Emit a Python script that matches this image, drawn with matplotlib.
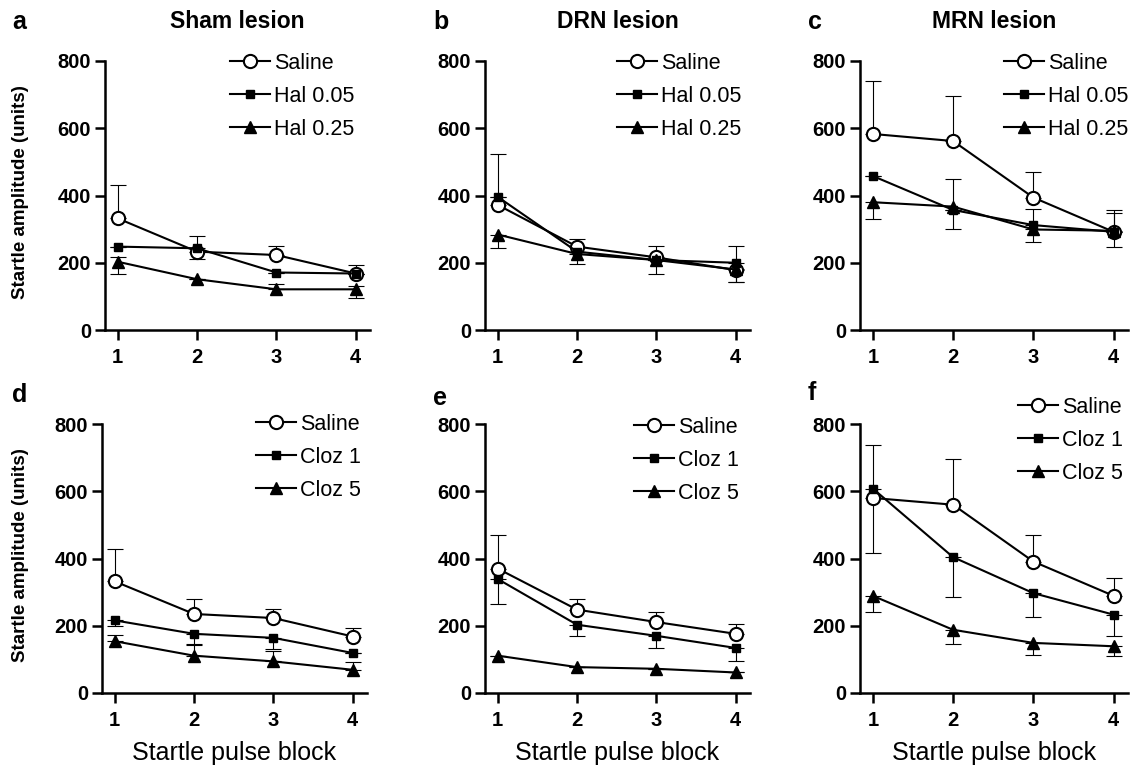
import matplotlib
matplotlib.use("Agg")
import matplotlib.pyplot as plt

plt.rcParams["font.family"] = ["Liberation Sans", "DejaVu Sans"]

BLOCKS = [1, 2, 3, 4]

PANEL_LETTERS = ["a", "b", "c", "d", "e", "f"]
PANEL_TITLES = ["Sham lesion", "DRN lesion", "MRN lesion", "", "", ""]
TOP_LABELS = ["Saline", "Hal 0.05", "Hal 0.25"]
BOTTOM_LABELS = ["Saline", "Cloz 1", "Cloz 5"]

# means per panel: saline, low dose, high dose
MEANS_A = [[332, 233, 223, 168], [248, 243, 171, 168], [203, 151, 121, 121]]
MEANS_B = [[372, 248, 216, 178], [396, 233, 208, 200], [284, 226, 208, 180]]
MEANS_C = [[583, 562, 394, 292], [458, 357, 312, 292], [380, 367, 299, 295]]
MEANS_D = [[332, 235, 223, 168], [216, 176, 164, 119], [154, 111, 94, 69]]
MEANS_E = [[370, 248, 211, 176], [339, 203, 170, 134], [111, 77, 72, 61]]
MEANS_F = [[580, 560, 391, 289], [608, 404, 297, 233], [289, 188, 149, 139]]

# upward error (SEM) per series
ERR_UP_A = [[99, 47, 28, 25], [0, 0, 0, 0], [15, 0, 15, 10]]
ERR_UP_B = [[151, 22, 35, 0], [0, 0, 0, 50], [0, 0, 0, 0]]
ERR_UP_C = [[157, 135, 75, 65], [0, 0, 48, 55], [0, 82, 0, 0]]
ERR_UP_D = [[96, 45, 27, 25], [0, 0, 0, 0], [18, 35, 30, 22]]
ERR_UP_E = [[100, 32, 30, 30], [0, 0, 0, 0], [0, 0, 0, 0]]
ERR_UP_F = [[158, 137, 78, 52], [0, 0, 0, 0], [0, 0, 0, 0]]

# downward error (SEM) per series
ERR_DN_A = [[0, 0, 0, 0], [0, 33, 0, 0], [35, 0, 0, 25]]
ERR_DN_B = [[0, 0, 0, 34], [0, 0, 0, 0], [39, 30, 40, 36]]
ERR_DN_C = [[0, 0, 0, 0], [0, 0, 0, 0], [50, 68, 38, 47]]
ERR_DN_D = [[0, 0, 0, 0], [18, 32, 33, 0], [0, 0, 0, 0]]
ERR_DN_E = [[0, 0, 0, 0], [74, 32, 37, 38], [0, 0, 0, 0]]
ERR_DN_F = [[0, 0, 0, 0], [192, 119, 71, 62], [48, 42, 35, 30]]

MEANS = [MEANS_A, MEANS_B, MEANS_C, MEANS_D, MEANS_E, MEANS_F]
ERR_UP = [ERR_UP_A, ERR_UP_B, ERR_UP_C, ERR_UP_D, ERR_UP_E, ERR_UP_F]
ERR_DN = [ERR_DN_A, ERR_DN_B, ERR_DN_C, ERR_DN_D, ERR_DN_E, ERR_DN_F]

W, H = 1133, 765
# axes boxes in pixels: left, top, right, bottom
BOXES = [(105, 61, 370, 330), (485, 61, 750, 330), (860, 61, 1128, 330),
         (102, 424, 367, 693), (485, 424, 750, 693), (860, 424, 1128, 693)]
# legend top-left in pixels (start of handle line)
LEG_POS = [(230, 53), (617, 53), (1004, 53), (256, 414), (634, 417), (1018, 397)]
LETTER_POS = [(12, 22), (433, 22), (808, 22), (12, 395), (433, 398), (808, 393)]

STYLES = [dict(marker="o", markersize=9.5, markerfacecolor="white", markeredgewidth=1.5),
          dict(marker="s", markersize=5.5, markerfacecolor="black"),
          dict(marker="^", markersize=8, markerfacecolor="black")]

fig = plt.figure(figsize=(W / 100, H / 100), dpi=100)

for i in range(6):
    l, t, r, b = BOXES[i]
    ax = fig.add_axes([l / W, 1 - b / H, (r - l) / W, (b - t) / H])
    labels = TOP_LABELS if i < 3 else BOTTOM_LABELS
    for s in range(3):
        ax.errorbar(BLOCKS, MEANS[i][s], yerr=[ERR_DN[i][s], ERR_UP[i][s]],
                    fmt="none", ecolor="black", elinewidth=0.8, capsize=5.5,
                    capthick=0.8, zorder=2)
    handles = []
    for s in range(3):
        h, = ax.plot(BLOCKS, MEANS[i][s], color="black", linewidth=1.5,
                     markeredgecolor="black", zorder=3 + s, label=labels[s],
                     **STYLES[s])
        handles.append(h)

    ax.set_xlim(0.84, 4.18)
    ax.set_ylim(0, 800)
    ax.set_xticks(BLOCKS)
    ax.set_yticks([0, 200, 400, 600, 800])
    for side in ("top", "right"):
        ax.spines[side].set_visible(False)
    for side in ("left", "bottom"):
        ax.spines[side].set_linewidth(1.8)
    ax.tick_params(width=1.8, length=7, labelsize=14.5)
    ax.tick_params(axis="x", pad=6)
    ax.tick_params(axis="y", pad=3)
    for lab in ax.get_xticklabels() + ax.get_yticklabels():
        lab.set_fontweight("bold")

    if PANEL_TITLES[i]:
        ax.text(0.5, (b - 22) / (b - t), PANEL_TITLES[i], transform=ax.transAxes,
                ha="center", va="center", fontsize=16.5, fontweight="bold")
    lx, ly = LETTER_POS[i]
    fig.text(lx / W, 1 - ly / H, PANEL_LETTERS[i], ha="left", va="center",
             fontsize=18, fontweight="bold")
    if i in (0, 3):
        fig.text(21 / W, 1 - ((t + b) / 2 - 3) / H, "Startle amplitude (units)",
                 rotation=90, ha="center", va="center", fontsize=13.5,
                 fontweight="bold")
    if i >= 3:
        ax.set_xlabel("Startle pulse block", fontsize=18, labelpad=8)

    px, py = LEG_POS[i]
    ax.legend(handles=handles, loc="upper left",
              bbox_to_anchor=(px / W, 1 - py / H), bbox_transform=fig.transFigure,
              frameon=False, fontsize=15.5, handlelength=1.85, handletextpad=0.2,
              labelspacing=0.55, borderpad=0, borderaxespad=0, markerscale=1.0)

fig.savefig("out.png", dpi=100)
